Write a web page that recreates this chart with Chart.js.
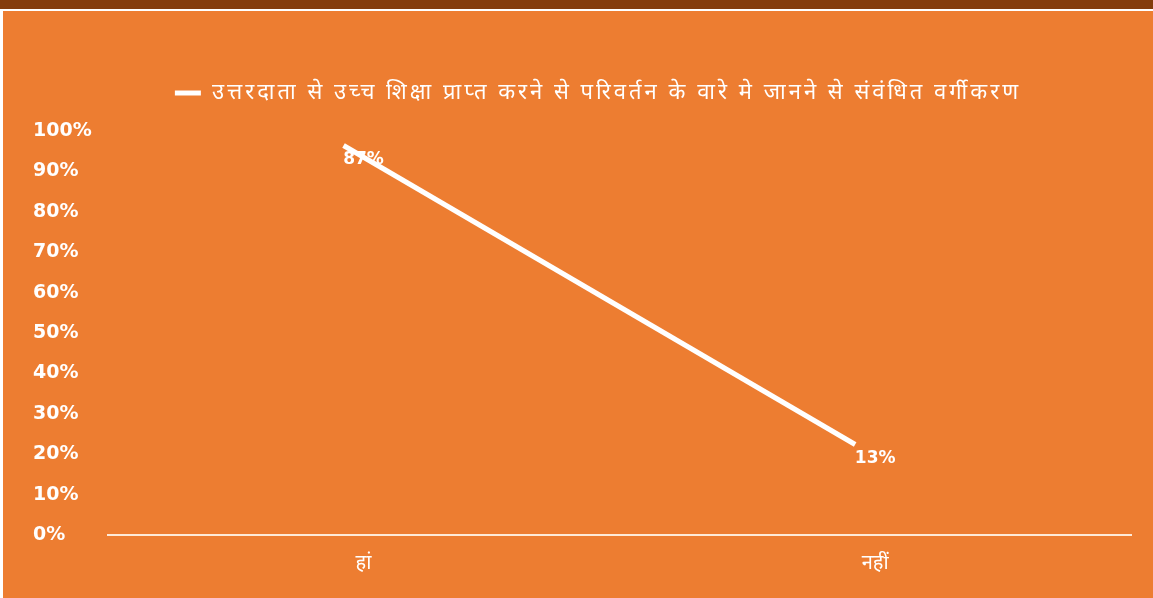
<!DOCTYPE html>
<html>
<head>
<meta charset="utf-8">
<script src="https://cdn.jsdelivr.net/npm/chart.js@4.4.1/dist/chart.umd.min.js"></script>
<style>
  html, body { margin: 0; padding: 0; background: #ffffff; width: 1153px; height: 598px; overflow: hidden; }
  .topbar { position: absolute; left: 0; top: 0; width: 1153px; height: 9px; background: #843c0c; }
  .panel { position: absolute; left: 3px; top: 11px; width: 1150px; height: 587px; background: #ed7d31; }
</style>
</head>
<body>
<div class="topbar"></div>
<div class="panel"><canvas id="chart" width="1150" height="587"></canvas></div>
<script>
// data
const categories = ['हां', 'नहीं'];
const percentValues = [87, 13];
const seriesName = 'उत्तरदाता से उच्च शिक्षा प्राप्त करने से परिवर्तन के वारे मे जानने से संवंधित वर्गीकरण';
const yTicks = [0, 10, 20, 30, 40, 50, 60, 70, 80, 90, 100];

const white = '#ffffff';
const numFont = 'DejaVu Sans';
const hindiFont = '"Noto Sans", sans-serif';

// in the original the line sits a bit up and left of its labels
const lineShift = { x: -20, y: -38 };

const shiftLine = {
    id: 'shiftLine',
    beforeDatasetDraw(chart) {
        chart.ctx.save();
        chart.ctx.translate(lineShift.x, lineShift.y);
    },
    afterDatasetDraw(chart) {
        chart.ctx.restore();
    }
};

// value labels above each point
const valueLabels = {
    id: 'valueLabels',
    afterDatasetsDraw(chart) {
        const ctx = chart.ctx;
        const meta = chart.getDatasetMeta(0);
        ctx.save();
        ctx.fillStyle = white;
        ctx.font = 'bold 17px ' + numFont;
        ctx.textAlign = 'center';
        ctx.textBaseline = 'middle';
        meta.data.forEach((pt, i) => {
            ctx.fillText(percentValues[i] + '%', pt.x, pt.y - 24);
        });
        ctx.restore();
    }
};

// legend text is spaced out, nudged right, and has extra room beneath it
const legendSpacing = '3px';
const legendTweak = {
    id: 'legendTweak',
    beforeInit(chart) {
        const lg = chart.legend;
        const fit = lg.fit;
        const draw = lg.draw;
        lg.fit = function () {
            chart.ctx.save();
            chart.ctx.letterSpacing = legendSpacing;
            fit.bind(lg)();
            chart.ctx.restore();
            this.height += 17;
        };
        lg.draw = function () {
            chart.ctx.save();
            chart.ctx.letterSpacing = legendSpacing;
            chart.ctx.translate(16, 0);
            draw.bind(lg)();
            chart.ctx.restore();
        };
    }
};

const ctx = document.getElementById('chart').getContext('2d');
const chart = new Chart(ctx, {
    type: 'line',
    data: {
        labels: categories,
        datasets: [{
            label: seriesName,
            data: percentValues,
            borderColor: white,
            backgroundColor: white,
            borderWidth: 5,
            pointRadius: 0,
            tension: 0,
            fill: false
        }]
    },
    options: {
        responsive: false,
        animation: false,
        layout: { padding: { left: 30, right: 22, top: 63, bottom: 7 } },
        plugins: {
            legend: {
                display: true,
                position: 'top',
                labels: {
                    color: white,
                    boxWidth: 26,
                    boxHeight: 5,
                    padding: 8,
                    font: { family: hindiFont, size: 22 },
                    generateLabels: (c) => [{
                        text: seriesName,
                        fillStyle: white,
                        strokeStyle: white,
                        lineWidth: 0,
                        fontColor: white,
                        datasetIndex: 0
                    }]
                }
            },
            tooltip: { enabled: false }
        },
        scales: {
            x: {
                offset: true,
                grid: { display: false, drawTicks: false, offset: true },
                border: { display: true, color: 'rgba(255,240,225,0.95)', width: 2 },
                ticks: {
                    color: white,
                    padding: 16,
                    font: { family: hindiFont, size: 20 }
                }
            },
            y: {
                min: 0,
                max: 100,
                afterBuildTicks: (axis) => { axis.ticks = yTicks.map(v => ({ value: v })); },
                grid: { display: false, drawTicks: false },
                border: { display: false },
                ticks: {
                    color: white,
                    crossAlign: 'far',
                    padding: 8,
                    font: { family: numFont, size: 19, weight: 'bold' },
                    callback: (v) => v + '%'
                }
            }
        }
    },
    plugins: [shiftLine, valueLabels, legendTweak]
});
</script>
</body>
</html>
